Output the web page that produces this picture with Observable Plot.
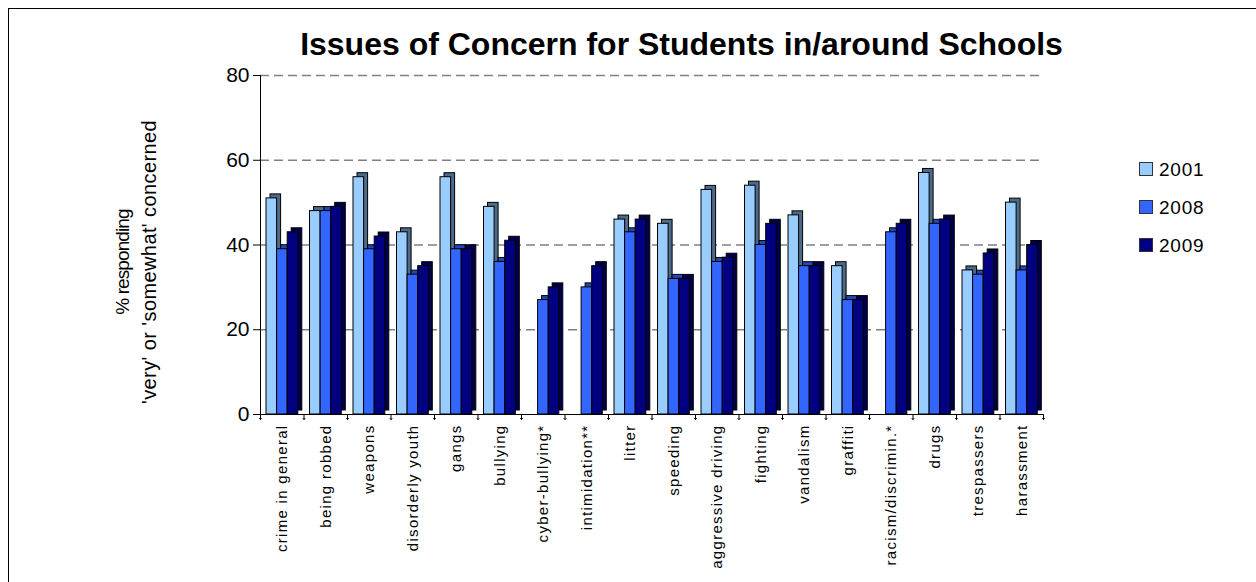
<!DOCTYPE html>
<html><head><meta charset="utf-8">
<script src="https://cdn.jsdelivr.net/npm/d3@7"></script>
<script src="https://cdn.jsdelivr.net/npm/@observablehq/plot@0.6"></script>
<style>
body{margin:0;background:#fff;font-family:"Liberation Sans",Arial,sans-serif}
#wrap{position:relative;width:1256px;height:582px;overflow:hidden;background:#fff}
#frame{position:absolute;left:8px;top:8px;width:1400px;height:800px;border-left:1px solid #000;border-top:1px solid #000}
#title{position:absolute;left:0;width:1363px;top:28px;line-height:32px;text-align:center;font-weight:bold;font-size:32px;color:#000}
#ylab{position:absolute;left:136px;top:262px;width:400px;transform:translate(-50%,-50%) rotate(-90deg);text-align:center;line-height:26px;color:#000}
#ylab .l1{font-size:19px;letter-spacing:-0.9px}
#ylab .l2{font-size:20px;letter-spacing:0.4px}
#chart{position:absolute;left:0;top:0}
.leg{position:absolute;left:1139px;font-size:19px;line-height:20px;letter-spacing:0.8px;color:#000}
.leg span{display:inline-block;width:12px;height:12px;border:1px solid #333;vertical-align:middle;margin-right:6px;position:relative;top:-2px}
g[aria-label="x-axis tick label"] text{letter-spacing:1.3px}
g[aria-label="y-axis tick label"]{font-size:21px}
</style></head>
<body>
<div id="wrap">
  <div id="frame"></div>
  <div id="chart"></div>
  <div id="title">Issues of Concern for Students in/around Schools</div>
  <div id="ylab"><div class="l1">% responding</div><div class="l2">'very' or 'somewhat' concerned</div></div>
  <div id="legend"></div>
</div>
<script>
const categories = ["crime in general","being robbed","weapons","disorderly youth","gangs","bullying","cyber-bullying*","intimidation**","litter","speeding","aggressive driving","fighting","vandalism","graffiti","racism/discrimin.*","drugs","trespassers","harassment"];
const years = ["2001","2008","2009"];
const v2001 = [51,48,56,43,56,49,null,null,46,45,53,54,47,35,null,57,34,50];
const v2008 = [39,48,39,33,39,36,27,30,43,32,36,40,35,27,43,45,33,34];
const v2009 = [43,49,42,35,39,41,30,35,46,32,37,45,35,27,45,46,38,40];
const yTicks = [0,20,40,60,80];
const gridTicks = [20,40,60,80];

const frontColors = {"2001":"#99CCFF","2008":"#3366FF","2009":"#000080"};
const sideColors = {"2001":"#4D6A88","2008":"#2446B8","2009":"#00004A"};

const series = {"2001":v2001,"2008":v2008,"2009":v2009};
const rows = [];
years.forEach(y => categories.forEach((c,i) => {
  const v = series[y][i];
  if (v != null) rows.push({category:c, year:y, value:v});
}));

const W = 1256, H = 582, mL = 260, mR = 213, mT = 75, mB = 168;
const band = (W - mL - mR) / categories.length;
const barW = 10.6, off = 6.0, depth = 4;

const barMarks = [];
years.forEach((y, i) => {
  const data = rows.filter(d => d.year === y);
  const insetLeft = off + i * barW;
  const insetRight = band - off - (i + 1) * barW;
  barMarks.push(Plot.barY(data, {x:"category", y:"value", fill:sideColors[y], stroke:"#000", strokeWidth:1, insetLeft, insetRight, dx:depth, dy:-depth}));
  barMarks.push(Plot.barY(data, {x:"category", y:"value", fill:frontColors[y], stroke:"#000", strokeWidth:1, insetLeft, insetRight}));
});

const chart = Plot.plot({
  width: W, height: H,
  marginLeft: mL, marginRight: mR, marginTop: mT, marginBottom: mB,
  x: {domain: categories, padding: 0, round: false},
  y: {domain: [0, 80]},
  style: {fontFamily: '"Liberation Sans", Arial, sans-serif', background: "transparent", color: "#000", overflow: "visible"},
  marks: [
    Plot.ruleY(gridTicks, {stroke:"#808080", strokeWidth:1.5, strokeDasharray:"9,5"}),
    ...barMarks,
    Plot.ruleY([0], {stroke:"#000", strokeWidth:1}),
    Plot.frame({anchor:"left", stroke:"#000"}),
    Plot.axisY({ticks: yTicks, tickSize: 7, tickPadding: 4, fontSize: 21, label: null, stroke:"#000"}),
    Plot.axisX({tickSize: 0, tickRotate: -90, tickPadding: 10, fontSize: 15, label: null}),
    Plot.vector(categories, {x: d => d, y: () => 0, length: 5, rotate: 180, anchor: "start", dx: -band/2, stroke:"#000", strokeWidth:1}),
    Plot.vector(categories.slice(-1), {x: d => d, y: () => 0, length: 5, rotate: 180, anchor: "start", dx: band/2, stroke:"#000", strokeWidth:1})
  ]
});
document.getElementById("chart").appendChild(chart);

const legTops = [160, 198, 236];
const legend = document.getElementById("legend");
years.forEach((y, i) => {
  const el = document.createElement("div");
  el.className = "leg";
  el.style.top = legTops[i] + "px";
  el.innerHTML = `<span style="background:${frontColors[y]}"></span>${y}`;
  legend.appendChild(el);
});
</script>
</body></html>
